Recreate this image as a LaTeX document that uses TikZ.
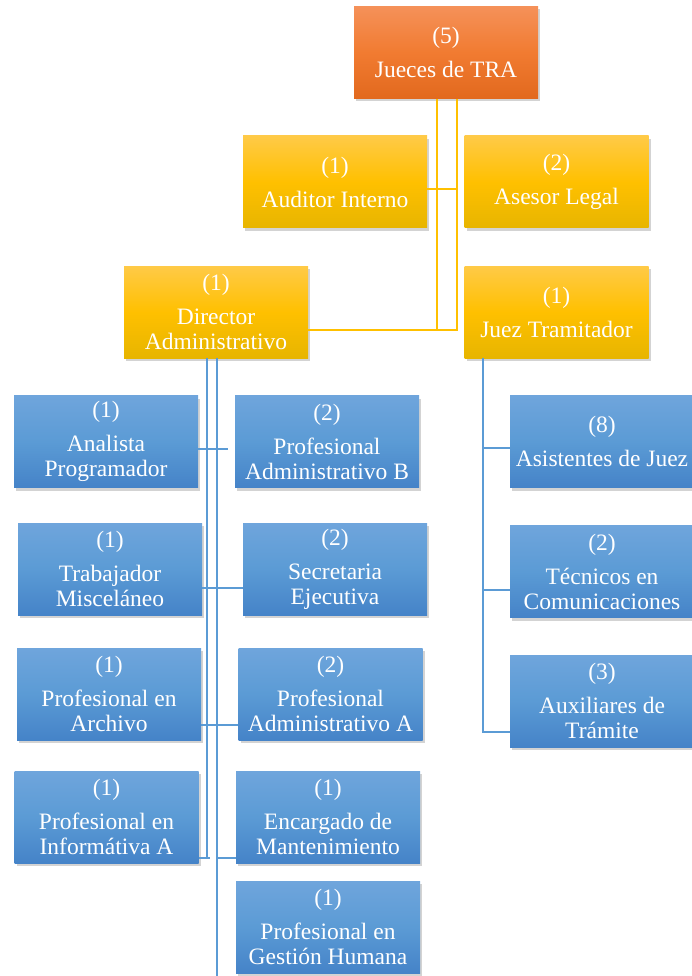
\documentclass[tikz,border=0pt]{standalone}
\usepackage{fontspec}
\setmainfont{Liberation Serif}
\usetikzlibrary{shadows,calc}
\definecolor{orTop}{HTML}{F59159}
\definecolor{orMid}{HTML}{F17B31}
\definecolor{orBot}{HTML}{E2691E}
\definecolor{yeTop}{HTML}{FFCA47}
\definecolor{yeMid}{HTML}{FFC000}
\definecolor{yeBot}{HTML}{E7B500}
\definecolor{blTop}{HTML}{6FA5DC}
\definecolor{blMid}{HTML}{5B9BD5}
\definecolor{blBot}{HTML}{4583C8}
\definecolor{yeLine}{HTML}{FFC000}
\definecolor{blLine}{HTML}{5B9BD5}
\tikzset{
  box/.style={rectangle, minimum width=184pt, minimum height=92pt, inner sep=1pt,
    align=center, text=white, font=\fontsize{23.5}{25}\selectfont,
    drop shadow={opacity=0.35, shadow xshift=2pt, shadow yshift=-3pt}},
  orbox/.style={box, top color=orTop, bottom color=orBot, middle color=orMid},
  yebox/.style={box, top color=yeTop, bottom color=yeBot, middle color=yeMid},
  blbox/.style={box, top color=blTop, bottom color=blBot, middle color=blMid},
  yline/.style={draw=yeLine, line width=2.8pt},
  bline/.style={draw=blLine, line width=2.6pt},
}
\begin{document}
\begin{tikzpicture}[x=1pt,y=-1pt]
\useasboundingbox (0,0) rectangle (691,976);
% top
\node[orbox] (jueces) at (446,52.5) {(5)\\[9pt]Jueces de TRA};
\node[yebox] (auditor) at (335,182) {(1)\\[9pt]Auditor Interno};
\node[yebox] (asesor) at (556.5,182) {(2)\\[9pt]Asesor Legal};
\node[yebox] (director) at (216,312) {(1)\\[9pt]Director\\Administrativo};
\node[yebox] (juez) at (556.5,312) {(1)\\[9pt]Juez Tramitador};
% left blue
\node[blbox] (analista) at (106,441.5) {(1)\\[9pt]Analista\\Programador};
\node[blbox] (profB) at (327,441.5) {(2)\\[9pt]Profesional\\Administrativo B};
\node[blbox] (trabajador) at (110,569) {(1)\\[9pt]Trabajador\\Misceláneo};
\node[blbox] (secretaria) at (335,569) {(2)\\[9pt]Secretaria\\Ejecutiva};
\node[blbox] (archivo) at (109,694) {(1)\\[9pt]Profesional en\\Archivo};
\node[blbox] (profA) at (330.5,694) {(2)\\[9pt]Profesional\\Administrativo A};
\node[blbox] (informatica) at (106.5,817) {(1)\\[9pt]Profesional en\\Informátiva A};
\node[blbox] (encargado) at (328,817) {(1)\\[9pt]Encargado de\\Mantenimiento};
\node[blbox] (gestion) at (328,927) {(1)\\[9pt]Profesional en\\Gestión Humana};
% right blue
\node[blbox] (asistentes) at (602,441.5) {(8)\\[9pt]Asistentes de Juez};
\node[blbox] (tecnicos) at (602,571.5) {(2)\\[9pt]Técnicos en\\Comunicaciones};
\node[blbox] (auxiliares) at (602,701) {(3)\\[9pt]Auxiliares de\\Trámite};
% yellow connectors
\draw[yline] ($(jueces.south)+(-9,0)$) |- ($(director.east)+(0,18)$);
\draw[yline] ($(jueces.south)+(11,0)$) |- ($(director.east)+(0,18)$);
\draw[yline] ($(auditor.east)+(0,7)$) -- ++(30,0);
% blue connectors from director
\coordinate (dirEnd) at (217,976);
\draw[bline] ($(director.south)+(-9,0)$) -- ++(0,500);
\draw[bline] ($(director.south)+(1,0)$) -- (dirEnd);
\draw[bline] ($(analista.east)+(0,7.5)$) -- ++(30,0);
\draw[bline] ($(trabajador.east)+(0,19)$) -- ($(secretaria.west)+(0,19)$);
\draw[bline] ($(archivo.east)+(0,31)$) -- ($(profA.west)+(0,31)$);
\draw[bline] ($(informatica.east)+(0,41)$) -- ++(11,0);
\draw[bline] ($(encargado.west)+(0,41)$) -- ++(-19,0);
% blue connectors from juez tramitador
\draw[bline] ($(juez.south)+(-73.5,0)$) |- ($(auxiliares.west)+(0,31)$);
\draw[bline] ($(asistentes.west)+(0,6.5)$) -- ++(-27,0);
\draw[bline] ($(tecnicos.west)+(0,18.5)$) -- ++(-27,0);
\end{tikzpicture}
\end{document}
